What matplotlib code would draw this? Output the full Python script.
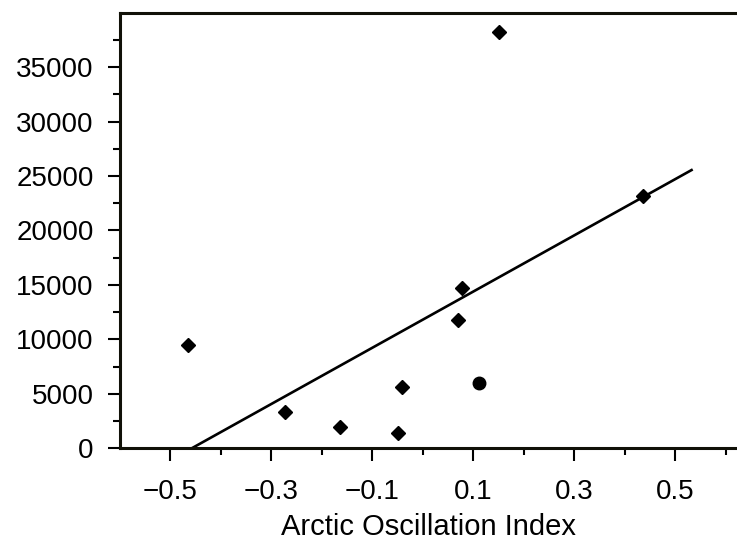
import matplotlib
matplotlib.use("Agg")
import matplotlib.pyplot as plt

# data
ao_index = [-0.465, -0.273, -0.164, -0.049, -0.042, 0.070, 0.077, 0.151, 0.436]
counts = [9500, 3300, 1950, 1400, 5600, 11760, 14720, 38200, 23200]
# the larger round dot
big_x = [0.111]
big_y = [6000]

# regression line (slope, intercept) and the x range it is drawn over
slope = 25810
intercept = 11820
fit_range = [-0.458, 0.532]

x_major = [-0.5, -0.3, -0.1, 0.1, 0.3, 0.5]
x_labels = ["\u22120.5", "\u22120.3", "\u22120.1", "0.1", "0.3", "0.5"]
x_minor = [-0.4, -0.2, 0.0, 0.2, 0.4, 0.6]
y_major = [0, 5000, 10000, 15000, 20000, 25000, 30000, 35000]
y_minor = [2500, 7500, 12500, 17500, 22500, 27500, 32500, 37500]

plt.rcParams['font.family'] = ['Liberation Sans', 'DejaVu Sans']

fig = plt.figure(figsize=(7.37, 5.43), dpi=100)
ax = fig.add_axes([120 / 737, 1 - 448.3 / 543, 1 - 120 / 737, (448.3 - 12.7) / 543])

fit_y = [slope * x + intercept for x in fit_range]
ax.plot(fit_range, fit_y, color='black', linewidth=1.9)
ax.plot(ao_index, counts, 'D', color='black', markersize=6.8, linestyle='none')
ax.plot(big_x, big_y, 'o', color='black', markersize=9, linestyle='none')

ax.set_xlim(-0.6, 0.622)
ax.set_ylim(0, 40000)

ax.set_xticks(x_major)
ax.set_xticklabels(x_labels)
ax.set_xticks(x_minor, minor=True)
ax.set_yticks(y_major)
ax.set_yticklabels([str(v) for v in y_major])
ax.set_yticks(y_minor, minor=True)

ax.tick_params(axis='both', which='major', length=9, width=1.5, labelsize=20, color='black')
ax.tick_params(axis='both', which='minor', length=5, width=1.5, color='black')
ax.tick_params(axis='x', which='major', pad=13)
ax.tick_params(axis='y', which='major', pad=10)

ax.spines['right'].set_visible(False)
for side in ['left', 'bottom', 'top']:
    ax.spines[side].set_linewidth(2.2)
    ax.spines[side].set_color('#111108')

ax.set_xlabel("Arctic Oscillation Index", fontsize=21, labelpad=6)

fig.savefig("out.png", dpi=100)
